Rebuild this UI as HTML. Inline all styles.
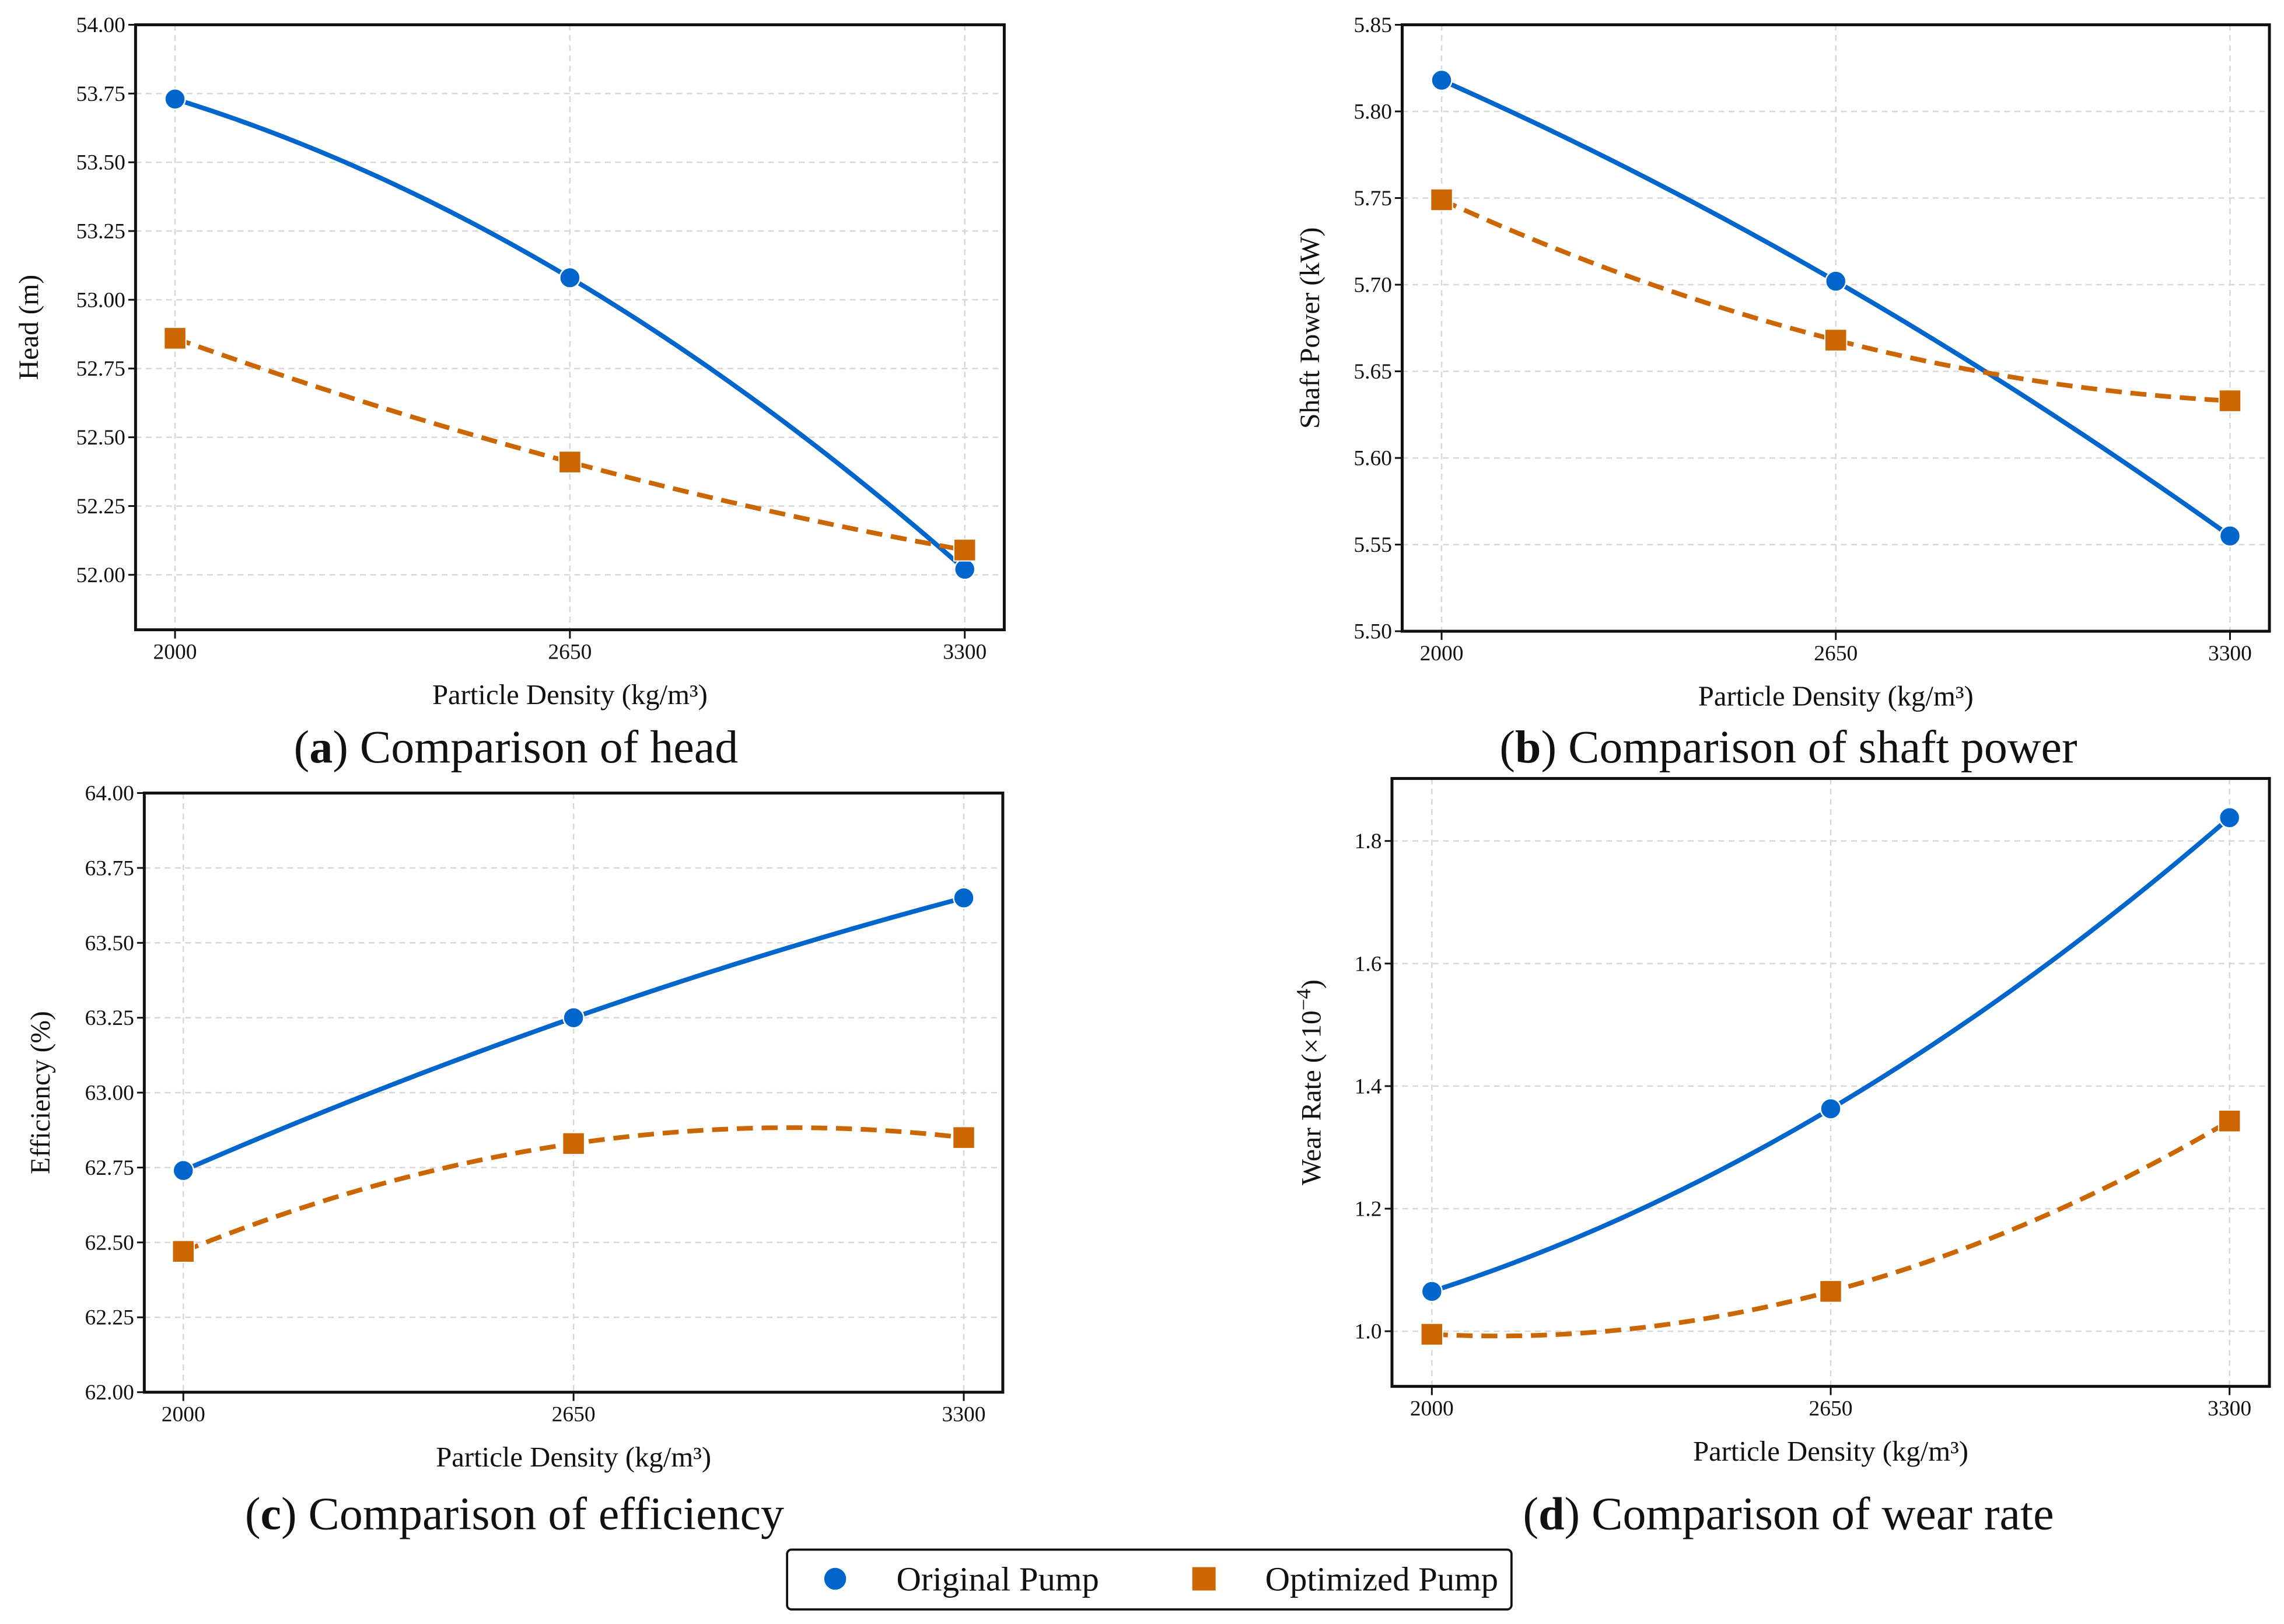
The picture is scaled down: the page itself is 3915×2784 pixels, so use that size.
<!DOCTYPE html>
<html><head><meta charset="utf-8">
<style>
html,body{margin:0;padding:0;background:#fff;}
svg{display:block;}
text{font-family:"Liberation Serif",serif;fill:#111;}
</style></head>
<body>
<svg id="fig" width="3915" height="2784" viewBox="0 0 1567 1114" preserveAspectRatio="none" xmlns="http://www.w3.org/2000/svg"></svg>
<script>
const categories = [2000, 2650, 3300];
const headOriginal = [53.73, 53.08, 52.02];
const headOptimized = [52.86, 52.41, 52.09];
const headTicks = ["52.00","52.25","52.50","52.75","53.00","53.25","53.50","53.75","54.00"];
const powerOriginal = [5.818, 5.702, 5.555];
const powerOptimized = [5.749, 5.668, 5.633];
const powerTicks = ["5.50","5.55","5.60","5.65","5.70","5.75","5.80","5.85"];
const effOriginal = [62.74, 63.25, 63.65];
const effOptimized = [62.47, 62.83, 62.85];
const effTicks = ["62.00","62.25","62.50","62.75","63.00","63.25","63.50","63.75","64.00"];
const wearOriginal = [1.065, 1.363, 1.838];
const wearOptimized = [0.995, 1.065, 1.343];
const wearTicks = ["1.0","1.2","1.4","1.6","1.8"];

const NS = "http://www.w3.org/2000/svg";
const svg = document.getElementById('fig');
const BLUE = "#0066CC", ORANGE = "#CC6600";
function mk(tag, attrs, parent){
  const e = document.createElementNS(NS, tag);
  for (const k in attrs) e.setAttribute(k, attrs[k]);
  (parent||svg).appendChild(e);
  return e;
}
function lagrange(xs, ys, x){
  let s = 0;
  for (let i=0;i<xs.length;i++){
    let t = ys[i];
    for (let j=0;j<xs.length;j++) if (j!==i) t *= (x-xs[j])/(xs[i]-xs[j]);
    s += t;
  }
  return s;
}
function panel(cfg){
  const g = mk('g', {});
  
  
  const xmin = 1935, xmax = 3365;
  const X = v => cfg.L + (v - xmin) / (xmax - xmin) * (cfg.R - cfg.L);
  const Y = v => cfg.B - (v - cfg.ymin) / (cfg.ymax - cfg.ymin) * (cfg.B - cfg.T);
  cfg.ticks.forEach(t => {
    const y = Y(parseFloat(t));
    const gl = mk('line', {x1:cfg.L, x2:cfg.R, y1:y, y2:y, stroke:"#d8d8d8", 'stroke-width':1, 'stroke-dasharray':"4,3"}, g);
    
    
    const tk = mk('line', {x1:cfg.L-5, x2:cfg.L, y1:y, y2:y, stroke:"#111", 'stroke-width':1.2}, g);
    
    
    const tl = mk('text', {x:cfg.L-7, y:y+5, 'text-anchor':'end', 'font-size':15}, g);
    tl.textContent = t;
    
    
  });
  categories.forEach(c => {
    const x = X(c);
    const gl = mk('line', {x1:x, x2:x, y1:cfg.T, y2:cfg.B, stroke:"#d8d8d8", 'stroke-width':1, 'stroke-dasharray':"4,3"}, g);
    
    
    const tk = mk('line', {x1:x, x2:x, y1:cfg.B, y2:cfg.B+6, stroke:"#111", 'stroke-width':1.2}, g);
    
    
    const tl = mk('text', {x:x, y:cfg.B+20, 'text-anchor':'middle', 'font-size':15}, g);
    tl.textContent = c;
    
    
  });
  [[cfg.orig, BLUE, null, 'original-pump-series'], [cfg.opt, ORANGE, "11,6", 'optimized-pump-series']].forEach(s => {
    const vals = s[0];
    let d = "";
    for (let i=0;i<=80;i++){
      const xv = categories[0] + (categories[2]-categories[0])*i/80;
      d += (i?"L":"M") + X(xv).toFixed(2) + "," + Y(lagrange(categories, vals, xv)).toFixed(2);
    }
    const p = mk('path', {d:d, fill:'none', stroke:s[1], 'stroke-width':3.2}, g);
    if (s[2]) p.setAttribute('stroke-dasharray', s[2]);
    
    
    vals.forEach((v, i) => {
      let m;
      if (s[1] === BLUE) m = mk('circle', {cx:X(categories[i]), cy:Y(v), r:7, fill:BLUE, stroke:'#fff', 'stroke-width':1}, g);
      else m = mk('rect', {x:X(categories[i])-7.5, y:Y(v)-7.5, width:15, height:15, fill:ORANGE, stroke:'#fff', 'stroke-width':0.8}, g);
      
      
    });
  });
  const fr = mk('rect', {x:cfg.L, y:cfg.T, width:cfg.R-cfg.L, height:cfg.B-cfg.T, fill:'none', stroke:'#111', 'stroke-width':2}, g);
  
  
  const yt = mk('text', {x:0, y:0, 'text-anchor':'middle', 'font-size':19, transform:`translate(${cfg.ylx},${(cfg.T+cfg.B)/2}) rotate(-90)`}, g);
  yt.innerHTML = cfg.ylabel;
  
  
  const xt = mk('text', {x:(cfg.L+cfg.R)/2, y:cfg.B+51, 'text-anchor':'middle', 'font-size':19.5}, g);
  xt.textContent = "Particle Density (kg/m³)";
  
  
  const cap = mk('text', {x:cfg.capx, y:cfg.capy, 'text-anchor':'middle', 'font-size':32}, g);
  cap.innerHTML = `(<tspan font-weight="bold">${cfg.letter}</tspan>) ${cfg.caption}`;
  
  
}
panel({name:'head-panel', L:93, R:689, T:17, B:432, ymin:51.80, ymax:54.00, ticks:headTicks, orig:headOriginal, opt:headOptimized, ylabel:"Head (m)", ylx:26, letter:'a', caption:'Comparison of head', capx:354, capy:523});
panel({name:'shaft-power-panel', L:962, R:1557, T:17, B:433, ymin:5.50, ymax:5.85, ticks:powerTicks, orig:powerOriginal, opt:powerOptimized, ylabel:"Shaft Power (kW)", ylx:905, letter:'b', caption:'Comparison of shaft power', capx:1227, capy:523});
panel({name:'efficiency-panel', L:99, R:688, T:544, B:955, ymin:62.00, ymax:64.00, ticks:effTicks, orig:effOriginal, opt:effOptimized, ylabel:"Efficiency (%)", ylx:34, letter:'c', caption:'Comparison of efficiency', capx:353, capy:1049});
panel({name:'wear-rate-panel', L:955, R:1557, T:534, B:951, ymin:0.91, ymax:1.902, ticks:wearTicks, orig:wearOriginal, opt:wearOptimized, ylabel:'Wear Rate (×10<tspan dy="-7" font-size="14">−4</tspan><tspan dy="7">)</tspan>', ylx:906, letter:'d', caption:'Comparison of wear rate', capx:1227, capy:1049});

const lg = mk('g', {});


const lb = mk('rect', {x:540, y:1063, width:497, height:41, rx:3, fill:'#fff', stroke:'#111', 'stroke-width':1.5}, lg);


const l1 = mk('circle', {cx:573, cy:1083, r:7.5, fill:BLUE}, lg);


const t1 = mk('text', {x:615, y:1091, 'font-size':23.5}, lg);
t1.textContent = "Original Pump";


const l2 = mk('rect', {x:818, y:1075, width:16, height:16, fill:ORANGE}, lg);


const t2 = mk('text', {x:868, y:1091, 'font-size':23.5}, lg);
t2.textContent = "Optimized Pump";


</script>
</body></html>
